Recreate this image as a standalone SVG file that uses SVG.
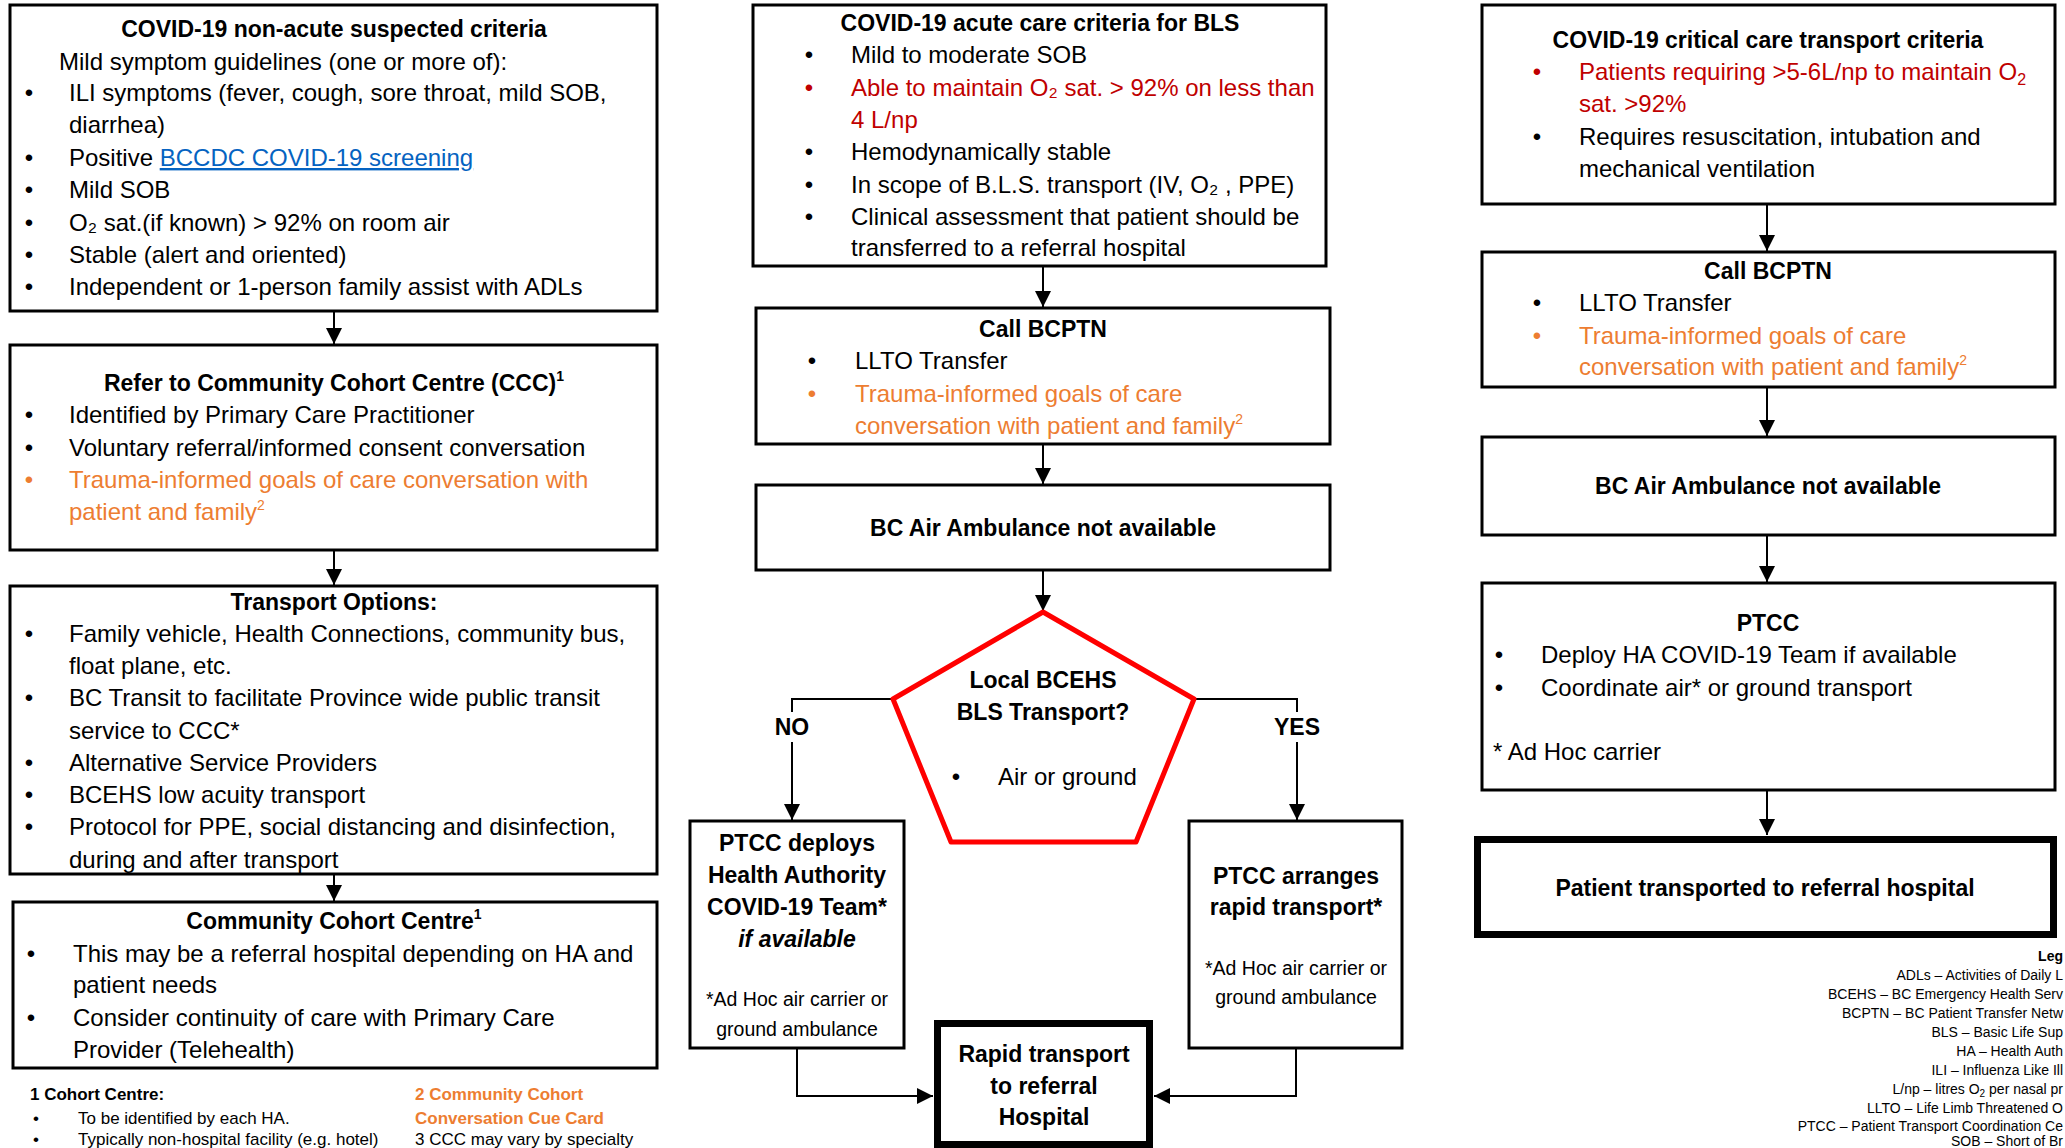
<svg xmlns="http://www.w3.org/2000/svg" width="2065" height="1148" viewBox="0 0 2065 1148">
<defs>
<style>
.box{fill:#fff;stroke:#000;stroke-width:3}
.thick{fill:#fff;stroke:#000;stroke-width:7}
.pent{fill:#fff;stroke:#ff0000;stroke-width:5;stroke-linejoin:round}
.con{fill:none;stroke:#000;stroke-width:2}
text{font-family:"Liberation Sans",Arial,sans-serif;fill:#000}
.t{font-size:24px}
.h{font-size:23px;font-weight:bold;text-anchor:middle}
.bu{font-size:24px;text-anchor:middle}
.or{fill:#ED7D31}
.rd{fill:#C00000}
.sm{font-size:19.5px;text-anchor:middle}
.fn{font-size:17px}
.lg{font-size:14px;text-anchor:end}
.lnk{fill:#0563C1;text-decoration:underline}
</style>
<marker id="ah" markerUnits="userSpaceOnUse" markerWidth="16" markerHeight="16" viewBox="0 0 16 16" refX="16" refY="8" orient="auto">
<path d="M0,0 L16,8 L0,16 z" fill="#000"/>
</marker>
</defs>
<rect width="2065" height="1148" fill="#fff"/>

<g id="connectors">
<path class="con" d="M334,311 V344" marker-end="url(#ah)"/>
<path class="con" d="M334,550 V585" marker-end="url(#ah)"/>
<path class="con" d="M334,874 V901" marker-end="url(#ah)"/>
<path class="con" d="M1043,266 V307" marker-end="url(#ah)"/>
<path class="con" d="M1043,444 V484" marker-end="url(#ah)"/>
<path class="con" d="M1043,570 V611" marker-end="url(#ah)"/>
<path class="con" d="M893,699 H792 V712"/>
<path class="con" d="M792,742 V820" marker-end="url(#ah)"/>
<path class="con" d="M1194,699 H1297 V712"/>
<path class="con" d="M1297,742 V820" marker-end="url(#ah)"/>
<path class="con" d="M797,1048 V1096 H933" marker-end="url(#ah)"/>
<path class="con" d="M1296,1048 V1096 H1154" marker-end="url(#ah)"/>
<path class="con" d="M1767,204 V251" marker-end="url(#ah)"/>
<path class="con" d="M1767,387 V436" marker-end="url(#ah)"/>
<path class="con" d="M1767,535 V582" marker-end="url(#ah)"/>
<path class="con" d="M1767,790 V835" marker-end="url(#ah)"/>
<text class="h" x="792" y="735">NO</text>
<text class="h" x="1297" y="735">YES</text>
</g>

<g id="non-acute">
<rect class="box" x="10" y="5" width="647" height="306"/>
<text class="h" x="334" y="37">COVID-19 non-acute suspected criteria</text>
<text class="t" x="59" y="70">Mild symptom guidelines (one or more of):</text>
<text class="bu" x="29" y="101">•</text><text class="t" x="69" y="101">ILI symptoms (fever, cough, sore throat, mild SOB,</text>
<text class="t" x="69" y="133">diarrhea)</text>
<text class="bu" x="29" y="166">•</text><text class="t" x="69" y="166">Positive <tspan class="lnk">BCCDC COVID-19 screening</tspan></text>
<text class="bu" x="29" y="198">•</text><text class="t" x="69" y="198">Mild SOB</text>
<text class="bu" x="29" y="231">•</text><text class="t" x="69" y="231">O₂ sat.(if known) &gt; 92% on room air</text>
<text class="bu" x="29" y="263">•</text><text class="t" x="69" y="263">Stable (alert and oriented)</text>
<text class="bu" x="29" y="295">•</text><text class="t" x="69" y="295">Independent or 1-person family assist with ADLs</text>
</g>

<g id="refer-ccc">
<rect class="box" x="10" y="345" width="647" height="205"/>
<text class="h" x="334" y="391">Refer to Community Cohort Centre (CCC)<tspan font-size="14" dy="-10">1</tspan></text>
<text class="bu" x="29" y="423">•</text><text class="t" x="69" y="423">Identified by Primary Care Practitioner</text>
<text class="bu" x="29" y="456">•</text><text class="t" x="69" y="456">Voluntary referral/informed consent conversation</text>
<text class="bu or" x="29" y="488">•</text><text class="t or" x="69" y="488">Trauma-informed goals of care conversation with</text>
<text class="t or" x="69" y="520">patient and family<tspan font-size="14" dy="-10">2</tspan></text>
</g>

<g id="transport-options">
<rect class="box" x="10" y="586" width="647" height="288"/>
<text class="h" x="334" y="610">Transport Options:</text>
<text class="bu" x="29" y="642">•</text><text class="t" x="69" y="642">Family vehicle, Health Connections, community bus,</text>
<text class="t" x="69" y="674">float plane, etc.</text>
<text class="bu" x="29" y="706">•</text><text class="t" x="69" y="706">BC Transit to facilitate Province wide public transit</text>
<text class="t" x="69" y="739">service to CCC*</text>
<text class="bu" x="29" y="771">•</text><text class="t" x="69" y="771">Alternative Service Providers</text>
<text class="bu" x="29" y="803">•</text><text class="t" x="69" y="803">BCEHS low acuity transport</text>
<text class="bu" x="29" y="835">•</text><text class="t" x="69" y="835">Protocol for PPE, social distancing and disinfection,</text>
<text class="t" x="69" y="868">during and after transport</text>
</g>

<g id="community-cohort-centre">
<rect class="box" x="13" y="902" width="644" height="166"/>
<text class="h" x="334" y="929">Community Cohort Centre<tspan font-size="14" dy="-10">1</tspan></text>
<text class="bu" x="31" y="962">•</text><text class="t" x="73" y="962">This may be a referral hospital depending on HA and</text>
<text class="t" x="73" y="993">patient needs</text>
<text class="bu" x="31" y="1026">•</text><text class="t" x="73" y="1026">Consider continuity of care with Primary Care</text>
<text class="t" x="73" y="1058">Provider (Telehealth)</text>
</g>

<g id="footnotes">
<text class="fn" x="30" y="1100" font-weight="bold">1 Cohort Centre:</text>
<text class="fn" x="36" y="1124" text-anchor="middle">•</text><text class="fn" x="78" y="1124">To be identified by each HA.</text>
<text class="fn" x="36" y="1145" text-anchor="middle">•</text><text class="fn" x="78" y="1145">Typically non-hospital facility (e.g. hotel)</text>
<text class="fn or" x="415" y="1100" font-weight="bold">2 Community Cohort</text>
<text class="fn or" x="415" y="1124" font-weight="bold">Conversation Cue Card</text>
<text class="fn" x="415" y="1145">3 CCC may vary by specialty</text>
</g>

<g id="acute-bls">
<rect class="box" x="753" y="5" width="573" height="261"/>
<text class="h" x="1040" y="31">COVID-19 acute care criteria for BLS</text>
<text class="bu" x="809" y="63">•</text><text class="t" x="851" y="63">Mild to moderate SOB</text>
<text class="bu rd" x="809" y="96">•</text><text class="t rd" x="851" y="96">Able to maintain O₂ sat. &gt; 92% on less than</text>
<text class="t rd" x="851" y="128">4 L/np</text>
<text class="bu" x="809" y="160">•</text><text class="t" x="851" y="160">Hemodynamically stable</text>
<text class="bu" x="809" y="193">•</text><text class="t" x="851" y="193">In scope of B.L.S. transport (IV, O₂ , PPE)</text>
<text class="bu" x="809" y="225">•</text><text class="t" x="851" y="225">Clinical assessment that patient should be</text>
<text class="t" x="851" y="256">transferred to a referral hospital</text>
</g>

<g id="call-bcptn-mid">
<rect class="box" x="756" y="308" width="574" height="136"/>
<text class="h" x="1043" y="337">Call BCPTN</text>
<text class="bu" x="812" y="369">•</text><text class="t" x="855" y="369">LLTO Transfer</text>
<text class="bu or" x="812" y="402">•</text><text class="t or" x="855" y="402">Trauma-informed goals of care</text>
<text class="t or" x="855" y="434">conversation with patient and family<tspan font-size="14" dy="-10">2</tspan></text>
</g>

<g id="air-ambulance-mid">
<rect class="box" x="756" y="485" width="574" height="85"/>
<text class="h" x="1043" y="536">BC Air Ambulance not available</text>
</g>

<g id="local-bcehs">
<polygon class="pent" points="1043,612 1194,699 1136,842 951,842 893,699"/>
<text class="h" x="1043" y="688">Local BCEHS</text>
<text class="h" x="1043" y="720">BLS Transport?</text>
<text class="bu" x="956" y="785">•</text><text class="t" x="998" y="785">Air or ground</text>
</g>

<g id="ptcc-deploys">
<rect class="box" x="690" y="821" width="214" height="227"/>
<text class="h" x="797" y="851">PTCC deploys</text>
<text class="h" x="797" y="883">Health Authority</text>
<text class="h" x="797" y="915">COVID-19 Team*</text>
<text class="h" x="797" y="947" font-style="italic">if available</text>
<text class="sm" x="797" y="1006">*Ad Hoc air carrier or</text>
<text class="sm" x="797" y="1036">ground ambulance</text>
</g>

<g id="ptcc-arranges">
<rect class="box" x="1189" y="821" width="213" height="227"/>
<text class="h" x="1296" y="884">PTCC arranges</text>
<text class="h" x="1296" y="915">rapid transport*</text>
<text class="sm" x="1296" y="975">*Ad Hoc air carrier or</text>
<text class="sm" x="1296" y="1004">ground ambulance</text>
</g>

<g id="rapid-transport">
<rect class="thick" x="937.5" y="1023.5" width="212" height="121"/>
<text class="h" x="1044" y="1062">Rapid transport</text>
<text class="h" x="1044" y="1094">to referral</text>
<text class="h" x="1044" y="1125">Hospital</text>
</g>

<g id="critical-care">
<rect class="box" x="1482" y="5" width="573" height="199"/>
<text class="h" x="1768" y="48">COVID-19 critical care transport criteria</text>
<text class="bu rd" x="1537" y="80">•</text><text class="t rd" x="1579" y="80">Patients requiring &gt;5-6L/np to maintain O<tspan font-size="16" dy="5">2</tspan></text>
<text class="t rd" x="1579" y="112">sat. &gt;92%</text>
<text class="bu" x="1537" y="145">•</text><text class="t" x="1579" y="145">Requires resuscitation, intubation and</text>
<text class="t" x="1579" y="177">mechanical ventilation</text>
</g>

<g id="call-bcptn-right">
<rect class="box" x="1482" y="252" width="573" height="135"/>
<text class="h" x="1768" y="279">Call BCPTN</text>
<text class="bu" x="1537" y="311">•</text><text class="t" x="1579" y="311">LLTO Transfer</text>
<text class="bu or" x="1537" y="344">•</text><text class="t or" x="1579" y="344">Trauma-informed goals of care</text>
<text class="t or" x="1579" y="375">conversation with patient and family<tspan font-size="14" dy="-10">2</tspan></text>
</g>

<g id="air-ambulance-right">
<rect class="box" x="1482" y="437" width="573" height="98"/>
<text class="h" x="1768" y="494">BC Air Ambulance not available</text>
</g>

<g id="ptcc-right">
<rect class="box" x="1482" y="583" width="573" height="207"/>
<text class="h" x="1768" y="631">PTCC</text>
<text class="bu" x="1499" y="663">•</text><text class="t" x="1541" y="663">Deploy HA COVID-19 Team if available</text>
<text class="bu" x="1499" y="696">•</text><text class="t" x="1541" y="696">Coordinate air* or ground transport</text>
<text class="t" x="1493" y="760">* Ad Hoc carrier</text>
</g>

<g id="patient-transported">
<rect class="thick" x="1477.5" y="839.5" width="576" height="95"/>
<text class="h" x="1765" y="896">Patient transported to referral hospital</text>
</g>

<g id="legend">
<text class="lg" x="2063" y="961" font-weight="bold">Leg</text>
<text class="lg" x="2063" y="980">ADLs – Activities of Daily L</text>
<text class="lg" x="2063" y="999">BCEHS – BC Emergency Health Serv</text>
<text class="lg" x="2063" y="1018">BCPTN – BC Patient Transfer Netw</text>
<text class="lg" x="2063" y="1037">BLS – Basic Life Sup</text>
<text class="lg" x="2063" y="1056">HA – Health Auth</text>
<text class="lg" x="2063" y="1075">ILI – Influenza Like Ill</text>
<text class="lg" x="2063" y="1094">L/np – litres O<tspan font-size="10" dy="3">2</tspan><tspan dy="-3"> per nasal pr</tspan></text>
<text class="lg" x="2063" y="1113">LLTO – Life Limb Threatened O</text>
<text class="lg" x="2063" y="1131">PTCC – Patient Transport Coordination Ce</text>
<text class="lg" x="2063" y="1146">SOB – Short of Br</text>
</g>
</svg>
